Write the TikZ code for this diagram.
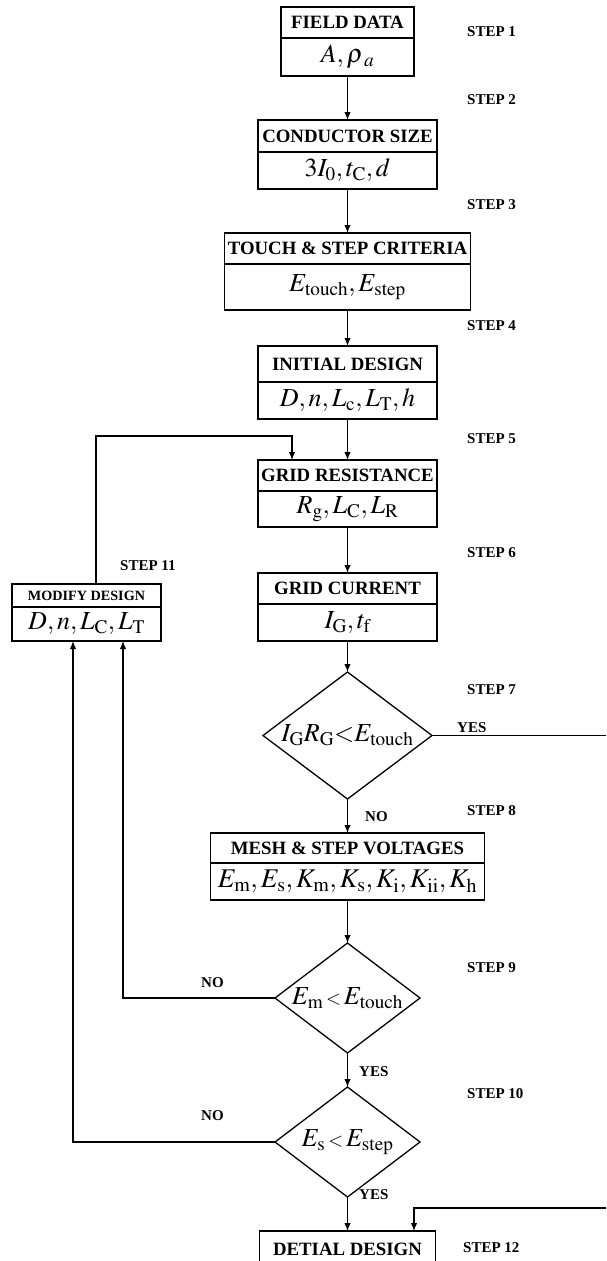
\documentclass[tikz,border=0pt]{standalone}
\usepackage{mathptmx}
\usepackage{fontspec}
\setmainfont{Liberation Serif}
\usetikzlibrary{shapes.geometric, arrows.meta, positioning}

\begin{document}
\begin{tikzpicture}[x=1pt, y=-1pt,
  head/.style={rectangle,draw,line width=1.3pt,outer sep=0pt,inner sep=1pt,minimum height=31pt,font=\fontsize{18.8}{20}\selectfont\bfseries,text centered},
  body/.style={rectangle,draw,line width=1.3pt,outer sep=0pt,inner sep=1pt,minimum height=37pt,font=\fontsize{26}{28}\selectfont,text centered},
  test/.style={diamond,draw,line width=1.3pt,outer sep=0pt,inner sep=0pt,minimum width=145pt,minimum height=110pt,font=\fontsize{26}{28}\selectfont},
  tag/.style={font=\fontsize{15}{16}\selectfont\bfseries,anchor=west,inner sep=0pt},
  arr/.style={-{Latex[length=8pt,width=6.5pt]},line width=1.3pt},
  wire/.style={line width=1.3pt}
]
\useasboundingbox (0,0) rectangle (606,1261);
% main column
\node[head, minimum width=133pt, anchor=north] (fdh) at (347.5,7) {FIELD DATA};
\node[body, minimum width=133pt, minimum height=38pt, below=0pt of fdh] (fdb) {$A,\rho_{\kern3pt a}$};
\node[head, minimum width=179pt, minimum height=32pt, below=44pt of fdb] (csh) {CONDUCTOR SIZE};
\node[body, minimum width=179pt, below=0pt of csh] (csb) {$3I_0,t_{\mathrm{C}},d$};
\node[head, minimum width=246pt, below=44pt of csb] (tsh) {TOUCH \& STEP CRITERIA};
\node[body, minimum width=246pt, minimum height=46pt, below=0pt of tsh] (tsb) {$E_{\mathrm{touch}},E_{\mathrm{step}}$};
\node[head, minimum width=179pt, minimum height=36pt, below=36pt of tsb] (idh) {INITIAL DESIGN};
\node[body, minimum width=179pt, below=0pt of idh] (idb) {$D,n,L_{\mathrm{c}},L_{\mathrm{T}},h$};
\node[head, minimum width=179pt, below=41pt of idb] (grh) {GRID RESISTANCE};
\node[body, minimum width=179pt, minimum height=36pt, below=0pt of grh] (grb) {$R_{\mathrm{g}},L_{\mathrm{C}},L_{\mathrm{R}}$};
\node[head, minimum width=179pt, below=46pt of grb] (gch) {GRID CURRENT};
\node[body, minimum width=179pt, below=0pt of gch] (gcb) {$I_{\mathrm{G}},t_{\mathrm{f}}$};
\node[test, minimum width=169pt, minimum height=127pt, below=31pt of gcb] (t1) {\makebox[0pt]{$I_{\mathrm{G}}R_{\mathrm{G}}{<}E_{\mathrm{touch}}$}};
\node[head, minimum width=274pt, minimum height=30pt, below=34pt of t1] (mvh) {MESH \& STEP VOLTAGES};
\node[body, minimum width=274pt, below=0pt of mvh, font=\fontsize{27}{28}\selectfont] (mvb) {$E_{\mathrm{m}},E_{\mathrm{s}},K_{\mathrm{m}},K_{\mathrm{s}},K_{\mathrm{i}},K_{\mathrm{ii}},K_{\mathrm{h}}$};
\node[test, below=43pt of mvb] (t2) {\makebox[0pt]{$E_{\mathrm{m}}\,{\scriptstyle<}\,E_{\mathrm{touch}}$}};
\node[test, below=34pt of t2] (t3) {\makebox[0pt]{$E_{\mathrm{s}}\,{\scriptstyle<}\,E_{\mathrm{step}}$}};
\node[head, minimum width=176pt, minimum height=36pt, below=34pt of t3] (ddh) {DETIAL DESIGN};
% side box
\node[head, minimum width=149pt, minimum height=23pt, anchor=north, font=\fontsize{14.2}{16}\selectfont\bfseries] (mdh) at (86.5,584) {MODIFY DESIGN};
\node[body, minimum width=149pt, minimum height=34pt, below=0pt of mdh] (mdb) {$D,n,L_{\mathrm{C}},L_{\mathrm{T}}$};
% step tags
\node[tag] (s1) at (467,32) {STEP 1};
\node[tag] (s2) at (467,100) {STEP 2};
\node[tag] (s3) at (467,205) {STEP 3};
\node[tag] (s4) at (467,326) {STEP 4};
\node[tag] (s5) at (467,439) {STEP 5};
\node[tag] (s6) at (467,553) {STEP 6};
\node[tag] (s7) at (467,690) {STEP 7};
\node[tag] (s8) at (467,811) {STEP 8};
\node[tag] (s9) at (467,968) {STEP 9};
\node[tag] (s10) at (467,1094) {STEP 10};
\node[tag] (s11) at (120,566) {STEP 11};
\node[tag] (s12) at (463,1248) {STEP 12};
% yes / no
\node[tag] (yes1) at (457,728) {YES};
\node[tag] (no1) at (365,817) {NO};
\node[tag] (yes2) at (359,1072) {YES};
\node[tag] (no2) at (201,983) {NO};
\node[tag] (yes3) at (359,1195) {YES};
\node[tag] (no3) at (201,1116) {NO};
% connectors
\coordinate (edge) at (606,0);
\draw[arr] (fdb) -- (csh);
\draw[arr] (csb) -- (tsh);
\draw[arr] (tsb) -- (idh);
\draw[arr] (idb) -- (grh);
\draw[arr] (grb) -- (gch);
\draw[arr] (gcb) -- (t1);
\draw[arr] (t1) -- (mvh);
\draw[arr] (mvb) -- (t2);
\draw[arr] (t2) -- (t3);
\draw[arr] (t3) -- (ddh);
\draw[wire] (t1.east) -- (t1.east -| edge);
\draw[arr] (t2.west) -| ([xshift=36.5pt]mdb.south);
\draw[arr] (t3.west) -| ([xshift=-13.5pt]mdb.south);
\draw[arr] ([xshift=9.5pt]mdh.north) -- ++(0,-148) -| ([xshift=-55.5pt]grh.north);
\draw[arr] (edge |- 0,1208) -| ([xshift=66.5pt]ddh.north);
\end{tikzpicture}
\end{document}
